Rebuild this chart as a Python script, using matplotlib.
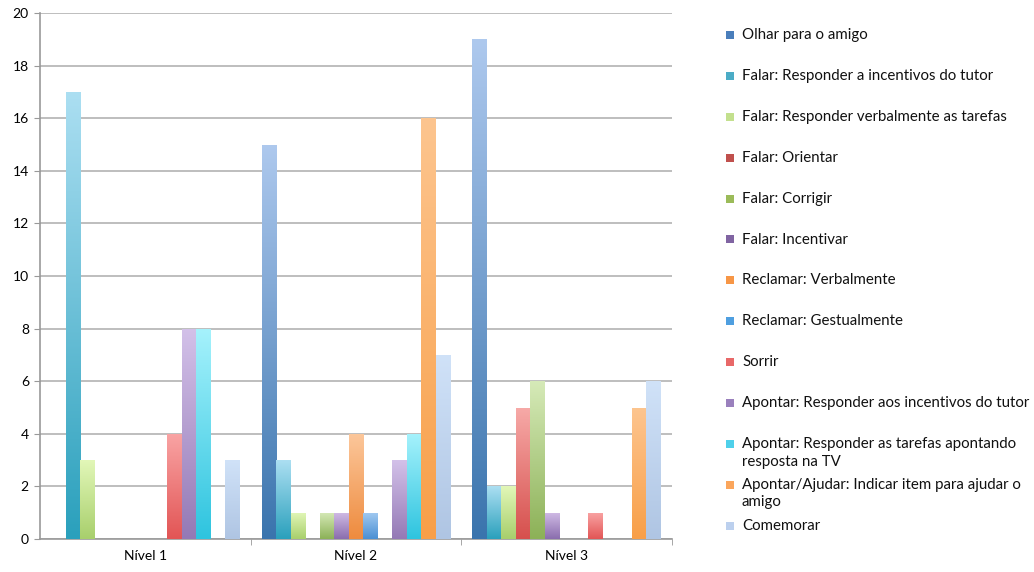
import numpy as np
import matplotlib
matplotlib.use("Agg")
import matplotlib.pyplot as plt
from matplotlib.colors import LinearSegmentedColormap, to_rgb
from matplotlib.patches import Rectangle

plt.rcParams['font.family'] = ['Lato', 'DejaVu Sans']

groups = ["Nível 1", "Nível 2", "Nível 3"]
series = [
    "Olhar para o amigo",
    "Falar: Responder a incentivos do tutor",
    "Falar: Responder verbalmente as tarefas",
    "Falar: Orientar",
    "Falar: Corrigir",
    "Falar: Incentivar",
    "Reclamar: Verbalmente",
    "Reclamar: Gestualmente",
    "Sorrir",
    "Apontar: Responder aos incentivos do tutor",
    "Apontar: Responder as tarefas apontando\nresposta na TV",
    "Apontar/Ajudar: Indicar item para ajudar o\namigo",
    "Comemorar",
]
values = [
    [0, 15, 19],
    [17, 3, 2],
    [3, 1, 2],
    [0, 0, 5],
    [0, 1, 6],
    [0, 1, 1],
    [0, 4, 0],
    [0, 1, 0],
    [4, 0, 1],
    [8, 3, 0],
    [8, 4, 0],
    [0, 16, 5],
    [3, 7, 6],
]
# (bottom color, top color)
colors = [
    ("#3a74ad", "#aec9ee"),
    ("#2aa0bc", "#acdff2"),
    ("#a8cf6c", "#e2f7b8"),
    ("#d6504d", "#f7aaa8"),
    ("#8cb157", "#d6eab8"),
    ("#8a6dad", "#d1bce6"),
    ("#ee8b3e", "#fcc79b"),
    ("#4a8fd3", "#a2caf1"),
    ("#e25555", "#f9a4a4"),
    ("#9479b5", "#d3c1e9"),
    ("#2ec4df", "#a6f2fc"),
    ("#f89f48", "#fdc58f"),
    ("#afc5e3", "#d0e2f8"),
]
legend_colors = ["#4a7ebb", "#4bacc6", "#c3e08e", "#c0504d", "#9bbb59", "#8064a2",
                 "#f79646", "#4f9fe0", "#e86868", "#9a80bd", "#4fd0ea", "#fba65c", "#bcd0ee"]

W, H = 1034, 572
fig = plt.figure(figsize=(W / 100, H / 100), dpi=100)
ax = fig.add_axes([40 / W, (H - 539) / H, (672 - 40) / W, (539 - 13) / H])

n = len(series)
bw = 14.5 / 210.7
x = np.arange(len(groups))
for i in range(n):
    bars = ax.bar(x + (i - (n - 1) / 2) * bw, values[i], width=bw,
                  color="none", edgecolor="none", zorder=3)
    cmap = LinearSegmentedColormap.from_list(f"c{i}", [to_rgb(colors[i][0]), to_rgb(colors[i][1])])
    grad = np.linspace(0, 1, 256).reshape(-1, 1)
    for b in bars:
        h = b.get_height()
        if h <= 0:
            continue
        x0 = b.get_x()
        im = ax.imshow(grad, cmap=cmap, origin="lower", aspect="auto",
                       extent=(x0, x0 + b.get_width(), 0, h), zorder=3,
                       interpolation="bilinear")
        im.set_clip_path(b)

ax.set_xlim(-0.5, 2.5)
ax.set_ylim(0, 20)
ax.set_yticks(np.arange(0, 21, 2))
ax.yaxis.grid(True, color="#b3b3b3", linewidth=1.2, zorder=0)
ax.set_axisbelow(True)
ax.set_xticks(x)
ax.set_xticklabels(groups, fontsize=10)
ax.set_xticks([0.5, 1.5, 2.5], minor=True)
ax.tick_params(axis="x", which="major", length=0, pad=8)
ax.tick_params(axis="x", which="minor", length=4, color="#999999", direction="out")
ax.tick_params(axis="y", length=4, color="#999999", labelsize=10, pad=4)
for s in ["top", "right"]:
    ax.spines[s].set_visible(False)
ax.spines["left"].set_color("#999999")
ax.spines["bottom"].set_color("#999999")
ax.spines["left"].set_linewidth(1.2)
ax.spines["bottom"].set_linewidth(1.2)

# legend
for i, name in enumerate(series):
    yc = 35 + 40.9 * i
    fig.add_artist(Rectangle((726 / W, 1 - (yc + 4) / H), 8 / W, 8 / H,
                             transform=fig.transFigure, facecolor=legend_colors[i],
                             edgecolor="none"))
    fig.text(742 / W, 1 - (yc - 7) / H, name, fontsize=10.8, va="top", ha="left",
             linespacing=1.32, color="#111111")

fig.savefig("out.png", dpi=100)
